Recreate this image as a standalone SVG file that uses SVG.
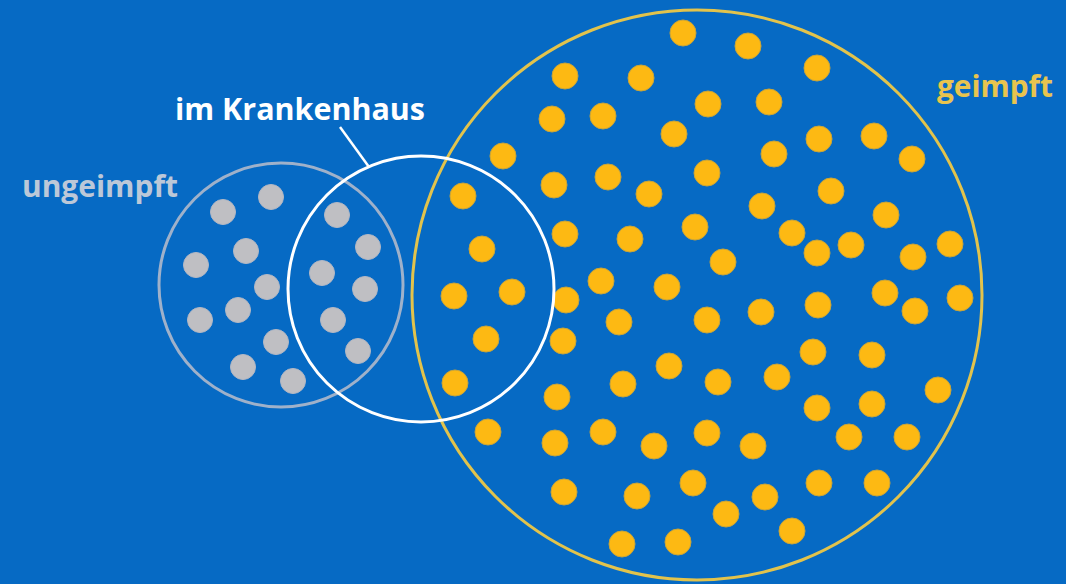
<svg xmlns="http://www.w3.org/2000/svg" width="1066" height="584" viewBox="0 0 1066 584">
<style>
.lbl{font-family:"Open Sans","Liberation Sans",sans-serif;font-weight:700;font-size:31px}
.y{fill:#fdb913;stroke:#c9a53a;stroke-width:1}
.g{fill:#bfbfc3;stroke:#b4b8c4;stroke-width:1}
</style>
<rect width="1066" height="584" fill="#066ac4"/>
<g id="ungeimpft">
<circle cx="281" cy="285" r="122" fill="none" stroke="#9fb1ca" stroke-width="3"/>
<text class="lbl" x="22" y="197" fill="#bcc8d8" textLength="156" lengthAdjust="spacingAndGlyphs">ungeimpft</text>
<g class="g">
<circle cx="271" cy="197" r="12.5"/><circle cx="223" cy="212" r="12.5"/><circle cx="246" cy="251" r="12.5"/><circle cx="196" cy="265" r="12.5"/><circle cx="267" cy="287" r="12.5"/><circle cx="238" cy="310" r="12.5"/><circle cx="200" cy="320" r="12.5"/><circle cx="276" cy="342" r="12.5"/><circle cx="243" cy="367" r="12.5"/><circle cx="293" cy="381" r="12.5"/>
<circle cx="337" cy="215" r="12.5"/><circle cx="368" cy="247" r="12.5"/><circle cx="322" cy="273" r="12.5"/><circle cx="365" cy="289" r="12.5"/><circle cx="333" cy="320" r="12.5"/><circle cx="358" cy="351" r="12.5"/>
</g>
</g>
<g id="geimpft">
<circle cx="697" cy="295" r="285" fill="none" stroke="#e2c34c" stroke-width="3"/>
<text class="lbl" x="937" y="97" fill="#e8c44e" textLength="116" lengthAdjust="spacingAndGlyphs">geimpft</text>
<g class="y">
<circle cx="683" cy="33" r="13"/><circle cx="748" cy="46" r="13"/><circle cx="565" cy="76" r="13"/><circle cx="641" cy="78" r="13"/><circle cx="817" cy="68" r="13"/>
<circle cx="708" cy="104" r="13"/><circle cx="769" cy="102" r="13"/><circle cx="552" cy="119" r="13"/><circle cx="603" cy="116" r="13"/><circle cx="674" cy="134" r="13"/>
<circle cx="503" cy="156" r="13"/><circle cx="774" cy="154" r="13"/><circle cx="819" cy="139" r="13"/><circle cx="874" cy="136" r="13"/><circle cx="912" cy="159" r="13"/>
<circle cx="554" cy="185" r="13"/><circle cx="608" cy="177" r="13"/><circle cx="649" cy="194" r="13"/><circle cx="707" cy="173" r="13"/><circle cx="762" cy="206" r="13"/><circle cx="831" cy="191" r="13"/>
<circle cx="463" cy="196" r="13"/><circle cx="565" cy="234" r="13"/><circle cx="630" cy="239" r="13"/><circle cx="695" cy="227" r="13"/><circle cx="792" cy="233" r="13"/><circle cx="817" cy="253" r="13"/><circle cx="851" cy="245" r="13"/><circle cx="886" cy="215" r="13"/><circle cx="913" cy="257" r="13"/><circle cx="950" cy="244" r="13"/>
<circle cx="482" cy="249" r="13"/><circle cx="723" cy="262" r="13"/><circle cx="601" cy="281" r="13"/><circle cx="667" cy="287" r="13"/>
<circle cx="454" cy="296" r="13"/><circle cx="512" cy="292" r="13"/><circle cx="566" cy="300" r="13"/><circle cx="761" cy="312" r="13"/><circle cx="619" cy="322" r="13"/><circle cx="707" cy="320" r="13"/><circle cx="818" cy="305" r="13"/><circle cx="885" cy="293" r="13"/><circle cx="915" cy="311" r="13"/><circle cx="960" cy="298" r="13"/>
<circle cx="486" cy="339" r="13"/><circle cx="563" cy="341" r="13"/><circle cx="669" cy="366" r="13"/><circle cx="813" cy="352" r="13"/><circle cx="872" cy="355" r="13"/>
<circle cx="455" cy="383" r="13"/><circle cx="623" cy="384" r="13"/><circle cx="718" cy="382" r="13"/><circle cx="777" cy="377" r="13"/><circle cx="557" cy="397" r="13"/><circle cx="817" cy="408" r="13"/><circle cx="872" cy="404" r="13"/><circle cx="938" cy="390" r="13"/>
<circle cx="488" cy="432" r="13"/><circle cx="555" cy="443" r="13"/><circle cx="603" cy="432" r="13"/><circle cx="654" cy="446" r="13"/><circle cx="707" cy="433" r="13"/><circle cx="753" cy="446" r="13"/><circle cx="849" cy="437" r="13"/><circle cx="907" cy="437" r="13"/>
<circle cx="564" cy="492" r="13"/><circle cx="637" cy="496" r="13"/><circle cx="693" cy="483" r="13"/><circle cx="765" cy="497" r="13"/><circle cx="819" cy="483" r="13"/><circle cx="877" cy="483" r="13"/>
<circle cx="726" cy="514" r="13"/><circle cx="622" cy="544" r="13"/><circle cx="678" cy="542" r="13"/><circle cx="792" cy="531" r="13"/>
</g>
</g>
<g id="im-krankenhaus">
<circle cx="421" cy="289" r="133" fill="none" stroke="#ffffff" stroke-width="3"/>
<text class="lbl" x="175" y="120" fill="#ffffff" textLength="250" lengthAdjust="spacingAndGlyphs">im Krankenhaus</text>
</g>
<g id="connectors">
<line x1="340" y1="127" x2="369" y2="167" stroke="#ffffff" stroke-width="2.5"/>
</g>
</svg>
